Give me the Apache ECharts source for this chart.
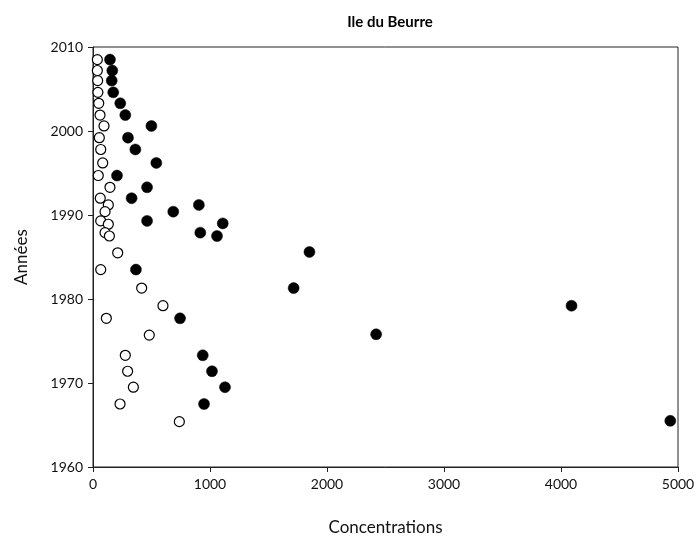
<!DOCTYPE html>
<html><head><meta charset="utf-8">
<script src="https://cdn.jsdelivr.net/npm/echarts@6/dist/echarts.min.js"></script>
<style>html,body{margin:0;padding:0;background:#fff}#c{width:699px;height:546px}</style>
</head><body><div id="c"></div>
<script>
var title = "Ile du Beurre";
var xName = "Concentrations";
var yName = "Années";

var openYears = [2008.5,2007.2,2006.0,2004.6,2003.3,2001.9,2000.6,1999.2,1997.8,1996.2,1994.7,1993.3,1992.0,1991.2,1990.4,1989.3,1988.9,1987.9,1987.5,1985.5,1983.5,1981.3,1979.2,1977.7,1975.7,1973.3,1971.4,1969.5,1967.5,1965.4];
var openConc  = [37,37,40,42,49,60,94,54,66,83,45,145,62,131,103,66,131,103,140,211,66,416,598,114,481,276,296,345,231,738];

var filledYears = [2008.5,2007.2,2006.0,2004.6,2003.3,2001.9,2000.6,1999.2,1997.8,1996.2,1994.7,1993.3,1992.0,1991.2,1990.4,1989.3,1989.0,1987.9,1987.5,1985.6,1983.5,1981.3,1979.2,1977.7,1975.8,1973.3,1971.4,1969.5,1967.5,1965.5];
var filledConc  = [145,165,160,173,233,276,499,299,362,541,205,462,330,905,686,462,1109,917,1060,1850,367,1715,4090,744,2420,938,1017,1128,949,4934];

var xTicks = {min:0, max:5000, interval:1000};
var yTicks = {min:1960, max:2010, interval:10};

function pairs(xs, ys){ return xs.map(function(v,i){ return [v, ys[i]]; }); }
function plain(v){ return String(v); }

var font = "Lato, 'DejaVu Sans', sans-serif";
var chart = echarts.init(document.getElementById('c'), null, {renderer:'canvas'});
chart.setOption({
  animation:false,
  backgroundColor:'#fff',
  title:{text:title,left:385,top:10,textAlign:'center',textStyle:{fontFamily:font,fontSize:15,fontWeight:'bold',color:'#000'}},
  grid:{left:93,right:21,top:47,bottom:79,show:true,borderColor:'#222',borderWidth:1,backgroundColor:'transparent'},
  xAxis:{type:'value',min:xTicks.min,max:xTicks.max,interval:xTicks.interval,
    name:xName,nameLocation:'middle',nameGap:52,nameTextStyle:{fontFamily:font,fontSize:17,color:'#111'},
    axisLine:{show:true,lineStyle:{color:'#222',width:1}},
    axisTick:{show:true,inside:false,length:5,lineStyle:{color:'#222'}},
    axisLabel:{fontFamily:font,fontSize:14,color:'#111',margin:10,formatter:plain},
    splitLine:{show:false}},
  yAxis:{type:'value',min:yTicks.min,max:yTicks.max,interval:yTicks.interval,
    name:yName,nameLocation:'middle',nameGap:63,nameRotate:90,nameTextStyle:{fontFamily:font,fontSize:17,color:'#111'},
    axisLine:{show:true,lineStyle:{color:'#222',width:1}},
    axisTick:{show:true,inside:false,length:5,lineStyle:{color:'#222'}},
    axisLabel:{fontFamily:font,fontSize:14,color:'#111',margin:10,formatter:plain},
    splitLine:{show:false}},
  series:[
    {type:'scatter',name:'open',data:pairs(openConc,openYears),symbol:'circle',symbolSize:10,
     itemStyle:{color:'#fff',borderColor:'#000',borderWidth:1.2,opacity:1}},
    {type:'scatter',name:'filled',data:pairs(filledConc,filledYears),symbol:'circle',symbolSize:11,
     itemStyle:{color:'#000',borderColor:'#000',borderWidth:0.5,opacity:1}}
  ]
});
</script></body></html>
